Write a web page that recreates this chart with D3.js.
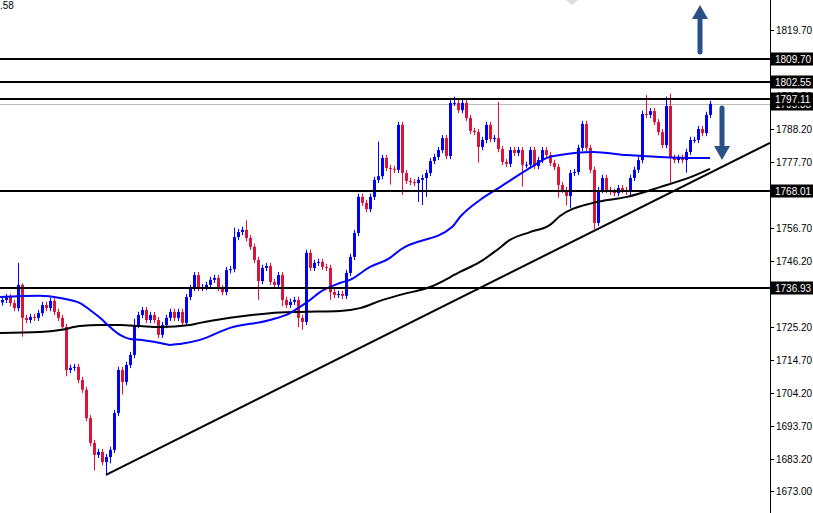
<!DOCTYPE html>
<html><head><meta charset="utf-8">
<script src="https://cdn.jsdelivr.net/npm/d3@7"></script>
<style>body{margin:0;background:#fff}svg{display:block}</style>
</head><body>
<svg id="c" width="813" height="513"></svg>
<script>
const firstOpen = 1733.0;
const closes = [
1733.8,1734.7,1732.8,1731.2,1738.6,1728.1,1727.4,1728.4,1728.1,1729.6,1732.2,1731.2,1733.5,1730.0,1728.1,1725.2,
1711.5,1712.2,1712.5,1708.3,1705.2,1696.2,1688.3,1684.5,1685.4,1682.2,1683.8,1686.1,1697.8,1711.5,1707.7,1713.1,1716.3,1725.8,1729.0,1730.6,
1727.4,1729.0,1727.4,1722.7,1725.8,1728.1,1730.0,1728.1,1730.0,1726.5,1734.7,1737.6,
1741.7,
1737.6,1737.9,1738.6,1740.2,1740.8,1737.6,1736.3,1743.3,1743.6,1753.8,1755.4,1756.1,1753.5,1750.7,1746.5,1739.8,1744.0,1744.6,1739.5,1738.6,
1741.7,1733.8,1732.2,1733.2,1733.8,1728.1,1726.8,1748.8,1744.0,1745.6,1745.9,1744.3,1744.0,1736.3,1735.4,1735.7,1735.1,1742.4,1747.5,1755.1,
1766.6,1764.7,1762.7,1766.6,1772.0,1773.2,1779.0,
1775.8,1775.5,1775.2,1789.5,1774.2,1771.7,1771.3,1771.0,1772.0,1772.6,1774.2,1778.0,1779.3,1781.5,1785.3,1779.6,1796.5,1796.5,1794.2,1796.5,
1791.7,1787.6,1787.2,1782.5,1784.7,1789.5,1785.0,1785.3,1781.8,1777.7,1777.1,1781.5,1780.6,1781.5,1776.8,1776.8,1781.5,1776.4,1778.3,1781.5,
1779.9,1777.4,1776.1,1770.4,1768.8,1766.9,1774.2,1774.5,1782.2,
1789.8,1782.2,1775.2,1758.3,1768.8,1772.6,1768.8,1768.2,1767.8,1769.4,1768.8,1768.2,1772.6,1775.2,1778.3,1793.0,1792.7,1793.9,1790.4,1787.2,
1783.1,1795.5,1779.0,1778.3,1779.0,1778.3,1780.9,1784.7,1784.7,1788.2,1786.9,1792.7,1796.2];
const wickHi = [
1,1,1,1,7,0.5,1,1,1,1, 1,1,1,1,1,1,1,1,1,1, 1,1,1,1,1,1,1,1,1,1, 1,1,1,2,1,1,1,1,1,1,
1,1,1,1,1,1,1,1,1,1, 1,1,1,1,1,1,1,1,3,1, 1,3,1,1,1,1,1,1,1,1, 1,1,1,1,1,1,1,1,1,1,
1,1,1,1,1,1,1,1,1,1, 1,1,1,1,11,1,1,1,1,1, 1,1,1,1,1,1,1,1,1,1, 1,1,1.5,2,1,1,1,1,1,1,
1,1,1,1,11.5,1,1,1,1,1, 1,1,1,1,1,1,1,1,1,1, 1,1,1,1,1,1,1,1,1,1, 1,1,1,1,1,1,1,1,1,1,
1,6,1,1,1,1,3,4,1,1, 1,1,1,1,1,1,1,1];
const wickLo = [
1,1,1,1,1,6,1,1,1,1, 1,1,1,1,1,1,2,1,1,1, 1,1,1,5,1,1,4,2,1,1, 4,1,1,1,1,1,1,1,1,1,
1,1,1,1,1,1,1,1,1,1, 1,1,1,1,1,1,1,1,1,1, 1,1,1,1,6,1,1,1,1,1, 2,1,1,1,3,2.5,1,1,1,1,
1,1,2.5,1,1,1,1,1,1,1, 1,1,1,1,1,1,1,5,1,1, 7,1,1,1,6,8,6,1,1,1, 1,1,1,1,1,1,1,1,1,5,
1,1,1,1,1,1,1,1,1,1, 7,1,1,1,1,1,1,1,1,4, 1,3,4,1,1,1,1,1,2,1, 1,1,1,1,1,1,1,1,1,1,
1,1,1,1,1,1,1,8,1,1, 1,4,1,1,1,1,1,1];
const maBlue = [[-0.5,1734.7],[9.5,1735.1],[14.5,1734.4],[19.5,1732.8],[22,1730.6],[24.5,1728.1],[27,1725.2],[29.5,1722.7],[32,1721.4],[34.5,1721.1],[39.5,1720.1],[42,1719.5],[44.5,1719.8],[49.5,1721.1],[57,1724.9],[67,1727.4],[72,1729.6],[74.5,1731.6],[77,1733.8],[79.5,1736.3],[84.5,1739.2],[87,1740.2],[92,1744.3],[97,1747.2],[99.5,1749.7],[112.5,1757.0],[114.5,1760.2],[119.5,1765.6],[124.5,1769.7],[132,1775.8],[136.25,1779.0],[139.5,1779.9],[147.75,1780.9],[156.25,1779.9],[164.5,1779.3],[172.75,1779.0],[177,1779.0]];
const maBlack = [[-0.5,1723.3],[9.5,1723.6],[14.5,1724.2],[19.5,1725.5],[24.5,1725.8],[29.5,1725.8],[34.5,1725.5],[39.5,1725.2],[47,1725.8],[49.5,1726.5],[57,1728.1],[67,1729.6],[74.5,1730.0],[84.5,1730.3],[89.5,1731.2],[94.5,1733.5],[99.5,1735.4],[107,1737.9],[114.5,1742.7],[119.5,1745.9],[123.75,1749.7],[127,1752.9],[132,1755.4],[137,1757.7],[139.5,1760.5],[147.75,1764.7],[156.25,1766.6],[164.5,1769.7],[172.75,1773.2],[177,1775.5]];
const trend = [[26,1678.1],[192,1783.8]];
const levels = [1810.4,1803.2,1797.8,1768.5,1737.6];
const levelLabels = ["1809.70","1802.55","1797.11","1768.01","1736.93"];
const grayLevel = 1796.2;
const grayLabel = "1795.38";
const tickLabels = ["1819.70","1798.70","1788.20","1777.70","1756.70","1746.20","1725.20","1714.70","1704.20","1693.70","1683.20","1673.00"];
const tickValues = [1819.70,1798.70,1788.20,1777.70,1756.70,1746.20,1725.20,1714.70,1704.20,1693.70,1683.20,1673.00];

const svg = d3.select("#c");
const W = 770;
const x = d3.scaleLinear().domain([0,177]).range([2,710]);
const y = d3.scaleLinear().domain([1673,1819.7]).range([491,30]);

const candles = closes.map((c,i)=>{
  const o = i===0?firstOpen:closes[i-1];
  return {i,o,c,h:Math.max(o,c)+wickHi[i],l:Math.min(o,c)-wickLo[i]};
});

const plot = svg.append("g");
plot.append("line").attr("x1",0).attr("x2",W).attr("y1",Math.round(y(grayLevel))+0.5).attr("y2",Math.round(y(grayLevel))+0.5).attr("stroke","#bbb").attr("stroke-width",1);
const cg = plot.append("g");
candles.forEach(d=>{
  const col = d.c>=d.o?"#0000ff":"#dc143c";
  const cx = Math.round(x(d.i))+0.5;
  cg.append("line").attr("x1",cx).attr("x2",cx).attr("y1",y(d.h)).attr("y2",y(d.l)).attr("stroke",col).attr("stroke-width",1);
  const t=y(Math.max(d.o,d.c)), b=y(Math.min(d.o,d.c));
  cg.append("rect").attr("x",cx-1.5).attr("width",3).attr("y",t).attr("height",Math.max(1,b-t)).attr("fill",col);
});
const line = d3.line().x(d=>x(d[0])).y(d=>y(d[1])).curve(d3.curveMonotoneX);
plot.append("path").attr("d",line(maBlack)).attr("fill","none").attr("stroke","#000").attr("stroke-width",2);
plot.append("path").attr("d",line(maBlue)).attr("fill","none").attr("stroke","#0000ff").attr("stroke-width",2);
plot.append("path").attr("d",d3.line().x(d=>x(d[0])).y(d=>y(d[1]))(trend)).attr("fill","none").attr("stroke","#000").attr("stroke-width",2);
levels.forEach(v=>{
  plot.append("line").attr("x1",0).attr("x2",W).attr("y1",Math.round(y(v))).attr("y2",Math.round(y(v))).attr("stroke","#000").attr("stroke-width",2);
});
function arrow(x0,y0,y1){
  const dir = y1<y0?-1:1;
  plot.append("line").attr("x1",x0).attr("x2",x0).attr("y1",y0).attr("y2",y1-dir*12).attr("stroke","#2a5185").attr("stroke-width",5).attr("stroke-linecap","round");
  plot.append("path").attr("d",`M${x0-8},${y1-dir*14}L${x0+8},${y1-dir*14}L${x0},${y1}Z`).attr("fill","#2a5185");
}
arrow(700,52,5);
arrow(722,108,160);
plot.append("path").attr("d","M566,0L578,0L572,5Z").attr("fill","#ddd");
svg.append("text").attr("x",0).attr("y",9).text(".58").attr("font-family","Liberation Sans, Arial").attr("font-size",10);

svg.append("rect").attr("x",W).attr("y",0).attr("width",43).attr("height",513).attr("fill","#fff");
svg.append("line").attr("x1",W+0.5).attr("x2",W+0.5).attr("y1",0).attr("y2",513).attr("stroke","#000");
const ax = svg.append("g").attr("font-family","Liberation Sans, Arial").attr("font-size",10);
tickValues.forEach((v,k)=>{
  const yy=Math.round(y(v))+0.5;
  ax.append("line").attr("x1",W).attr("x2",W+4).attr("y1",yy).attr("y2",yy).attr("stroke","#000");
  ax.append("text").attr("x",W+6).attr("y",yy+3.5).text(tickLabels[k]).attr("fill","#000");
});
const boxes=[[grayLevel,grayLabel],...levels.map((v,k)=>[v,levelLabels[k]])];
boxes.forEach(([v,t])=>{
  const yy=Math.round(y(v));
  ax.append("rect").attr("x",W+1).attr("y",yy-6.5).attr("width",42).attr("height",13).attr("fill","#000");
  ax.append("text").attr("x",W+5).attr("y",yy+3.5).text(t).attr("fill","#fff");
});
</script>
</body></html>
